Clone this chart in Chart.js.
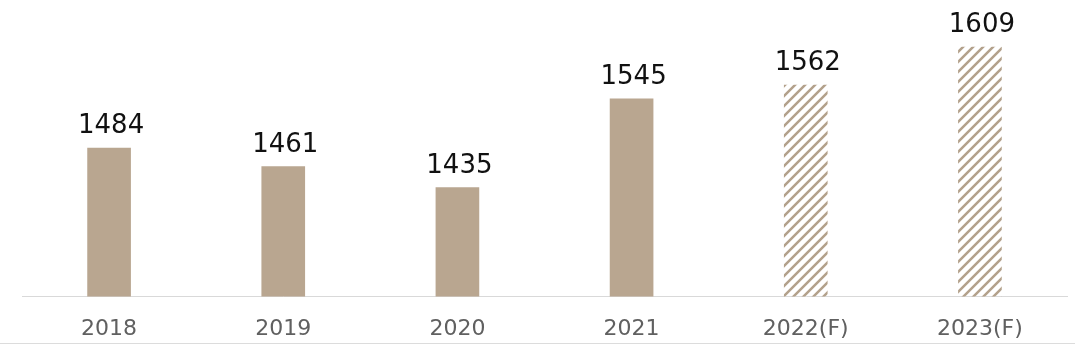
<!DOCTYPE html>
<html lang="en">
<head>
    <meta charset="UTF-8">
    <title>Yearly Values with Forecast</title>
    <style>
        body {
            margin: 0;
            background-color: #fff;
        }
        .wrap {
            position: relative;
            width: 1075px;
            height: 364px;
        }
        .bottom-rule {
            position: absolute;
            left: 0;
            top: 343px;
            width: 1075px;
            height: 1px;
            background-color: #dcdcdc;
        }
    </style>
    <script src="https://cdn.jsdelivr.net/npm/chart.js"></script>
</head>
<body>
<div class="wrap">
    <canvas id="chart"></canvas>
    <div class="bottom-rule"></div>
</div>

<script>
    // Chart data
    const years = ['2018', '2019', '2020', '2021', '2022(F)', '2023(F)'];
    const values = [1484, 1461, 1435, 1545, 1562, 1609];
    const isForecast = [false, false, false, false, true, true];

    const barColor = '#b9a690';

    // Diagonal stripe pattern for forecast bars
    function makeHatch() {
        const tile = document.createElement('canvas');
        tile.width = 10;
        tile.height = 10;
        const c = tile.getContext('2d');
        c.strokeStyle = '#b3a18b';
        c.lineWidth = 2.5;
        c.lineCap = 'square';
        c.beginPath();
        c.moveTo(0, 10);
        c.lineTo(10, 0);
        c.moveTo(-5, 5);
        c.lineTo(5, -5);
        c.moveTo(5, 15);
        c.lineTo(15, 5);
        c.stroke();
        return c.createPattern(tile, 'repeat');
    }
    const hatch = makeHatch();

    // Value labels above each bar
    const valueLabels = {
        id: 'valueLabels',
        afterDatasetsDraw(chart) {
            const ctx = chart.ctx;
            const meta = chart.getDatasetMeta(0);
            ctx.save();
            ctx.font = '26px "DejaVu Sans"';
            ctx.fillStyle = '#111';
            ctx.textAlign = 'center';
            ctx.textBaseline = 'alphabetic';
            meta.data.forEach((bar, i) => {
                ctx.fillText(String(values[i]), bar.x + 2, bar.y - 15);
            });
            ctx.restore();
        }
    };

    new Chart(document.getElementById('chart'), {
        type: 'bar',
        data: {
            labels: years,
            datasets: [{
                data: values,
                backgroundColor: isForecast.map(f => f ? hatch : barColor),
                borderWidth: 0,
                barThickness: 43
            }]
        },
        options: {
            responsive: true,
            maintainAspectRatio: false,
            animation: false,
            layout: {
                padding: { left: 22, right: 8, top: 14, bottom: 3 }
            },
            plugins: {
                legend: { display: false },
                tooltip: { enabled: false }
            },
            scales: {
                x: {
                    grid: { display: false, drawTicks: false },
                    border: { display: true, color: '#d9d9d9', width: 1 },
                    ticks: {
                        color: '#606060',
                        padding: 19,
                        font: { family: '"DejaVu Sans"', size: 22 }
                    }
                },
                y: {
                    display: false,
                    min: 1300,
                    max: 1650
                }
            }
        },
        plugins: [valueLabels]
    });
</script>
</body>
</html>
